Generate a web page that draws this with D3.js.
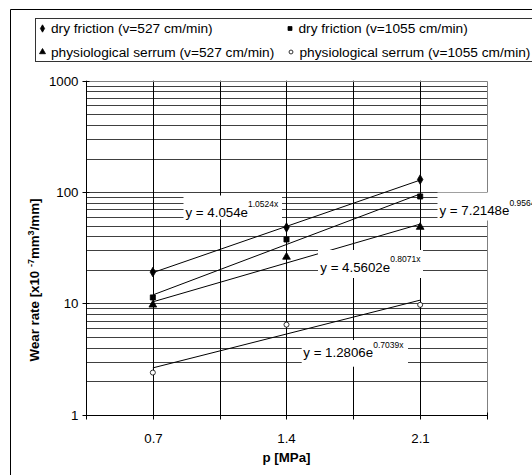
<!DOCTYPE html>
<html>
<head>
<meta charset="utf-8">
<script src="https://cdn.jsdelivr.net/npm/d3@7"></script>
<style>
  body { margin: 0; background: #fff; }
  svg { display: block; font-family: "Liberation Sans", Arial, sans-serif; }
</style>
</head>
<body>
<svg id="chart" width="532" height="475"></svg>
<script>
// data
const pressures = [0.7, 1.4, 2.1];
const xGrid = [0.35, 0.7, 1.05, 1.4, 1.75, 2.1, 2.45];
const xLabels = [0.7, 1.4, 2.1];
const yLabels = [1, 10, 100, 1000];

const dry527 = [19.1, 48.0, 129.5];
const dry1055 = [11.3, 37.5, 91.2];
const serum527 = [9.7, 26.1, 48.4];
const serum1055 = [2.39, 6.44, 9.7];

const seriesNames = [
  'dry friction (v=527 cm/min)',
  'dry friction (v=1055 cm/min)',
  'physiological serrum (v=527 cm/min)',
  'physiological serrum (v=1055 cm/min)'
];
const eqBase = ['y = 4.054e', 'y = 7.2148e', 'y = 4.5602e', 'y = 1.2806e'];
const eqExp = ['1.0524x', '0.9564x', '0.8071x', '0.7039x'];

const series = [
  {name: seriesNames[0], values: dry527, symbol: d3.symbolDiamond, size: 26, fill: '#000'},
  {name: seriesNames[1], values: dry1055, symbol: d3.symbolSquare, size: 26, fill: '#000'},
  {name: seriesNames[2], values: serum527, symbol: d3.symbolTriangle, size: 26, fill: '#000'},
  {name: seriesNames[3], values: serum1055, symbol: d3.symbolCircle, size: 20, fill: '#fff'},
];

const svg = d3.select('#chart');
const pLeft = 86, pRight = 487, pTop = 80.7, pBottom = 414.7;

const x = d3.scaleLinear().domain([0.35, 2.45]).range([pLeft, pRight]);
const y = d3.scaleLog().domain([1, 1000]).range([pBottom, pTop]);

// outer frame (runs off the page right and bottom)
svg.append('path')
    .attr('d', 'M10.5,480V9.5H540')
    .attr('fill', 'none')
    .attr('stroke', '#000');

// legend
const legend = svg.append('g');
legend.append('rect')
    .attr('x', 35.5).attr('y', 18.5)
    .attr('width', 520).attr('height', 43)
    .attr('fill', '#fff').attr('stroke', '#000').attr('stroke-opacity', 0.8);
const legPos = [[42.5, 28.5], [290, 28.5], [42.5, 52], [291, 52]];
series.forEach((s, i) => {
  legend.append('path')
      .attr('d', d3.symbol(s.symbol, s.size * 0.6)())
      .attr('transform', `translate(${legPos[i][0]},${legPos[i][1]})`)
      .attr('fill', s.fill).attr('stroke', '#000').attr('stroke-width', 0.8);
  legend.append('text')
      .attr('x', legPos[i][0] + 8.5).attr('y', legPos[i][1] + 4.7)
      .attr('font-size', 13.7)
      .text(s.name);
});

// gridlines
const yGrid = [];
for (let d = 1; d < 1000; d *= 10) {
  for (let k = 1; k < 10; k++) yGrid.push(d * k);
}
yGrid.push(1000);

const g = svg.append('g');
g.selectAll('.hg').data(yGrid.filter((v) => v > 1 && v < 1000)).enter()
    .append('line')
    .attr('x1', pLeft).attr('x2', pRight)
    .attr('y1', (d) => Math.round(y(d)) + 0.5).attr('y2', (d) => Math.round(y(d)) + 0.5)
    .attr('stroke', '#000').attr('stroke-opacity', 0.75);
g.selectAll('.vg').data(xGrid.slice(1, -1)).enter()
    .append('line')
    .attr('x1', (d) => Math.round(x(d)) + 0.5).attr('x2', (d) => Math.round(x(d)) + 0.5)
    .attr('y1', pTop).attr('y2', pBottom)
    .attr('stroke', '#000');

// plot border (top / right in gray)
g.append('path')
    .attr('d', `M${pLeft},${Math.round(pTop) + 0.5}H${pRight + 0.5}V${pBottom}`)
    .attr('fill', 'none').attr('stroke', '#808080');

// axes
const yAxis = d3.axisLeft(y).tickValues(yLabels).tickFormat(d3.format('d')).tickSize(4).tickPadding(4);
const yAx = svg.append('g').attr('transform', `translate(${pLeft + 0.5},0)`).call(yAxis);
yAx.selectAll('.tick line').attr('x2', -4).attr('x1', 3);
yAx.selectAll('.tick').attr('transform', (d) => `translate(0,${Math.round(y(d)) + 0.5})`);

const xAxis = d3.axisBottom(x).tickValues(xGrid).tickFormat((d) => xLabels.includes(d) ? d : '').tickSize(4).tickPadding(14);
const xAx = svg.append('g').attr('transform', `translate(0,${Math.round(pBottom) + 0.5})`).call(xAxis);
xAx.selectAll('.tick line').attr('y1', -3);
xAx.selectAll('.tick').attr('transform', (d) => `translate(${Math.round(x(d)) + 0.5},0)`);

[yAx, xAx].forEach((ax) => {
  ax.selectAll('text').attr('font-size', 13.3).attr('font-family', null).attr('fill', '#000');
  ax.selectAll('line').attr('stroke', '#000');
  ax.select('.domain').attr('stroke', '#000');
});
yAx.select('.domain').attr('d', `M0,${pTop}V${pBottom}`);
xAx.select('.domain').attr('d', `M${pLeft},0H${pRight}`);

// axis titles
svg.append('text')
    .attr('x', 286.5).attr('y', 462)
    .attr('text-anchor', 'middle').attr('font-weight', 'bold').attr('font-size', 13.3)
    .text('p [MPa]');

const yt = svg.append('text')
    .attr('transform', 'translate(39,280) rotate(-90)')
    .attr('text-anchor', 'middle').attr('font-weight', 'bold').attr('font-size', 13.3);
yt.append('tspan').text('Wear rate [x10 ');
yt.append('tspan').attr('dy', -5).attr('font-size', 9).text('-7');
yt.append('tspan').attr('dy', 5).text('mm');
yt.append('tspan').attr('dy', -5).attr('font-size', 9).text('3');
yt.append('tspan').attr('dy', 5).text('/mm]');

// exponential trendlines: least squares on ln(y)
function fit(vals) {
  const ly = vals.map(Math.log);
  const mx = d3.mean(pressures), my = d3.mean(ly);
  const b = d3.sum(pressures, (p, i) => (p - mx) * (ly[i] - my)) / d3.sum(pressures, (p) => (p - mx) ** 2);
  const a = my - b * mx;
  return (p) => Math.exp(a + b * p);
}
const line = d3.line().x((d) => x(d[0])).y((d) => y(d[1]));
series.forEach((s) => {
  const f = fit(s.values);
  const ends = [pressures[0], pressures[pressures.length - 1]];
  svg.append('path')
      .attr('d', line(ends.map((p) => [p, f(p)])))
      .attr('fill', 'none').attr('stroke', '#000').attr('stroke-width', 1);
});

// markers
series.forEach((s) => {
  svg.append('g').selectAll('path')
      .data(s.values).enter()
      .append('path')
      .attr('d', d3.symbol(s.symbol, s.size)())
      .attr('transform', (d, i) => `translate(${x(pressures[i])},${y(d)})`)
      .attr('fill', s.fill).attr('stroke', '#000').attr('stroke-width', 0.8);
});

// trendline equation labels
const eqBox = [
  {x: 183.5, y: 195.5, w: 98.5, h: 24, tx: 185.5, ty: 216.7},
  {x: 437.5, y: 192.5, w: 110, h: 28, tx: 439.5, ty: 215},
  {x: 318, y: 250, w: 105, h: 28, tx: 320.3, ty: 271.7},
  {x: 301.7, y: 340, w: 106.3, h: 26.7, tx: 303.3, ty: 357.3},
];
eqBox.forEach((b, i) => {
  svg.append('rect')
      .attr('x', b.x).attr('y', b.y).attr('width', b.w).attr('height', b.h)
      .attr('fill', '#fff');
  const t = svg.append('text')
      .attr('x', b.tx).attr('y', b.ty).attr('font-size', 13.3);
  t.append('tspan').text(eqBase[i]);
  t.append('tspan').attr('dy', -9.5).attr('font-size', 8.5).text(eqExp[i]);
});
</script>
</body>
</html>
